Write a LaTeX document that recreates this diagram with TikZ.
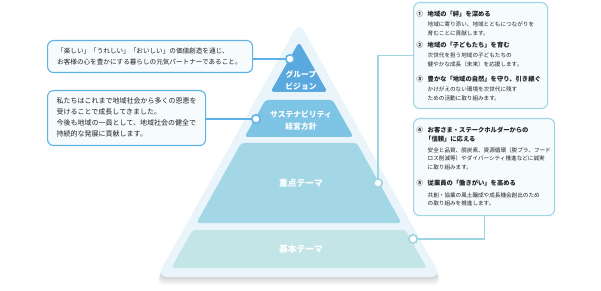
\documentclass[tikz,border=0pt]{standalone}
\usepackage{fontspec}
\setmainfont{Noto Sans CJK JP}
\definecolor{outerc}{HTML}{EAF4FB}
\definecolor{lay1}{HTML}{5AA9DE}
\definecolor{lay2}{HTML}{7EC4E4}
\definecolor{lay3}{HTML}{A4D7E5}
\definecolor{lay4}{HTML}{C4E5E8}
\definecolor{blueline}{HTML}{5EB2E4}
\definecolor{tealline}{HTML}{9FD5E2}
\definecolor{boxfill}{HTML}{F6FBFE}
\definecolor{txtc}{HTML}{222222}
\tikzset{
  boxB/.style={draw=blueline, line width=1.1pt, fill=boxfill, rounded corners=6pt, anchor=north west, inner sep=0},
  boxT/.style={draw=tealline, line width=1.1pt, fill=boxfill, rounded corners=6pt, anchor=north west, inner sep=0},
  dotB/.style={circle, draw=blueline, fill=white, line width=1.6pt, minimum size=8.5pt, inner sep=0},
  dotT/.style={circle, draw=tealline, fill=white, line width=1.6pt, minimum size=8.5pt, inner sep=0},
  connB/.style={draw=blueline, line width=1.1pt},
  connT/.style={draw=tealline, line width=1.1pt},
  bodyA/.style={anchor=base west, inner sep=0, text=txtc, font=\fontsize{6.6}{8}\selectfont},
  bodyB/.style={anchor=base west, inner sep=0, text=txtc, font=\fontsize{7}{8}\selectfont},
  ttl/.style={anchor=base west, inner sep=0, text=txtc, font=\bfseries\fontsize{6.3}{8}\selectfont},
  subt/.style={anchor=base west, inner sep=0, text=txtc, font=\fontsize{5.6}{7}\selectfont},
  lblS/.style={anchor=base, inner sep=0, text=white, font=\bfseries\fontsize{7.8}{9}\selectfont},
  lblL/.style={anchor=base, inner sep=0, text=white, font=\bfseries\fontsize{8.8}{10}\selectfont},
}
\begin{document}
\begin{tikzpicture}[x=1pt,y=-1pt]
\useasboundingbox (0,0) rectangle (601,291);
% shadow
\foreach \s/\o in {2/0.05,4/0.05,6/0.04,8/0.03}{
  \fill[black, opacity=\o, rounded corners=10pt] (299,{22+\s}) -- ({157-0.3*\s},{277+\s}) -- ({441+0.3*\s},{277+\s}) -- cycle;
}
% outer triangle
\fill[outerc, rounded corners=10pt] (299,22) -- (157,277) -- (441,277) -- cycle;
% layers
\fill[lay1, rounded corners=3.5pt] (299,42) -- (270.5,92) -- (327.5,92) -- cycle;
\fill[lay2, rounded corners=3pt] (265.4,100) -- (332.6,100) -- (353.3,137) -- (244.7,137) -- cycle;
\fill[lay3, rounded corners=3pt] (241.2,143) -- (356.8,143) -- (401.5,223) -- (196.5,223) -- cycle;
\fill[lay4, rounded corners=3pt] (192.6,230) -- (405.4,230) -- (426.7,268) -- (171.3,268) -- cycle;
% layer labels
\node[lblS] (l1a) at (301,78) {グループ};
\node[lblS] (l1b) at (301,89.5) {ビジョン};
\node[lblS] (l2a) at (301,118) {サステナビリティ};
\node[lblS] (l2b) at (301,129.5) {経営方針};
\node[lblL] (l3) at (301,186.5) {重点テーマ};
\node[lblL] (l4) at (301,252.5) {基本テーマ};
% boxes
\node[boxB, minimum width=205, minimum height=32] (b1) at (47,40) {};
\node[boxB, minimum width=158, minimum height=55] (b2) at (47,90) {};
\node[boxT, minimum width=134, minimum height=106] (b3) at (413,2) {};
\node[boxT, minimum width=141, minimum height=97] (b4) at (413,118) {};
% box 1 text
\node[bodyA] (t1a) at (57,53.5) {「楽しい」「うれしい」「おいしい」の価値創造を通じ、};
\node[bodyA] (t1b) at (57,64.5) {お客様の心を豊かにする暮らしの元気パートナーであること。};
% box 2 text
\node[bodyB] (t2a) at (56.5,103.5) {私たちはこれまで地域社会から多くの恩恵を};
\node[bodyB] (t2b) at (56.5,114.8) {受けることで成長してきました。};
\node[bodyB] (t2c) at (56.5,126) {今後も地域の一員として、地域社会の健全で};
\node[bodyB] (t2d) at (56.5,137) {持続的な発展に貢献します。};
% box 3 text
\node[ttl] (n1) at (416.5,16.5) {①};
\node[ttl] (h1) at (427.5,16.5) {地域の「絆」を深める};
\node[subt] (s1a) at (427.5,26.2) {地域に寄り添い、地域とともにつながりを};
\node[subt] (s1b) at (427.5,35.2) {育むことに貢献します。};
\node[ttl] (n2) at (416.5,48) {②};
\node[ttl] (h2) at (427.5,48) {地域の「子どもたち」を育む};
\node[subt] (s2a) at (427.5,57.6) {次世代を担う地域の子どもたちの};
\node[subt] (s2b) at (427.5,66.8) {健やかな成長（未来）を応援します。};
\node[ttl] (n3) at (416.5,82) {③};
\node[ttl] (h3) at (427.5,82) {豊かな「地域の自然」を守り、引き継ぐ};
\node[subt] (s3a) at (427.5,91.8) {かけがえのない環境を次世代に残す};
\node[subt] (s3b) at (427.5,101) {ための活動に取り組みます。};
% box 4 text
\node[ttl] (n4) at (416.5,132.4) {④};
\node[ttl] (h4a) at (427.5,132.4) {お客さま・ステークホルダーからの};
\node[ttl] (h4b) at (425,141.8) {「信頼」に応える};
\node[subt] (s4a) at (427.5,152.2) {安全と品質、脱炭素、資源循環（脱プラ、フード};
\node[subt] (s4b) at (427.5,160.7) {ロス削減等）やダイバーシティ推進などに誠実};
\node[subt] (s4c) at (427.5,169.2) {に取り組みます。};
\node[ttl] (n5) at (416.5,185.6) {⑤};
\node[ttl] (h5) at (427.5,185.6) {従業員の「働きがい」を高める};
\node[subt] (s5a) at (427.5,197.2) {共創・協業の風土醸成や成長機会創出のため};
\node[subt] (s5b) at (427.5,205.7) {の取り組みを推進します。};
% dots
\node[dotB] (c1) at (290,59) {};
\node[dotB] (c2) at (256,119) {};
\node[dotT] (c3) at (378,183) {};
\node[dotT] (c4) at (413,239) {};
% connectors
\draw[connB] (c1) -- (c1 -| b1.east);
\draw[connB] (c2) -- (c2 -| b2.east);
\draw[connT] (c3) |- (b3.west);
\draw[connT] (c4) -| (b4.south);
\end{tikzpicture}
\end{document}
